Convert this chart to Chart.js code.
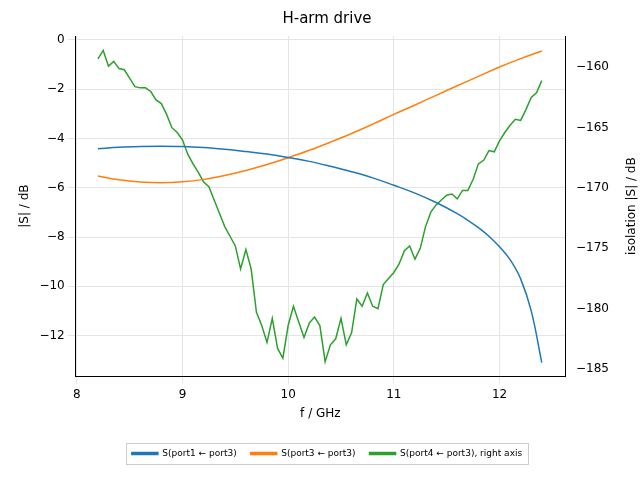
<!DOCTYPE html>
<html>
<head>
<meta charset="utf-8">
<script src="https://cdn.jsdelivr.net/npm/chart.js@4/dist/chart.umd.min.js"></script>
<style>
  body { margin: 0; background: #fff; }
  #wrap { width: 640px; height: 480px; }
</style>
</head>
<body>
<div id="wrap"><canvas id="chart"></canvas></div>
<script>
// valores
const freqBlue = [8.2, 8.4, 8.6, 8.8, 9.0, 9.2, 9.4, 9.6, 9.8, 10.0, 10.2, 10.4, 10.6, 10.8, 11.0, 11.2, 11.4, 11.6, 11.7, 11.8, 11.9, 12.0, 12.1, 12.2, 12.3, 12.4];
const s13 = [-4.42, -4.36, -4.33, -4.32, -4.33, -4.37, -4.44, -4.53, -4.63, -4.77, -4.93, -5.13, -5.35, -5.6, -5.9, -6.22, -6.6, -7.05, -7.32, -7.62, -7.97, -8.4, -8.92, -9.7, -11.0, -13.1];

const freqOrange = [8.2, 8.4, 8.6, 8.8, 9.0, 9.2, 9.4, 9.6, 9.8, 10.0, 10.2, 10.4, 10.6, 10.8, 11.0, 11.2, 11.4, 11.6, 11.8, 12.0, 12.2, 12.4];
const s33 = [-5.52, -5.68, -5.77, -5.8, -5.76, -5.66, -5.5, -5.3, -5.06, -4.78, -4.48, -4.15, -3.8, -3.42, -3.02, -2.64, -2.25, -1.86, -1.48, -1.1, -0.76, -0.45];

const freqGreen = [8.2, 8.25, 8.3, 8.35, 8.4, 8.45, 8.5, 8.55, 8.6, 8.65, 8.7, 8.75, 8.8, 8.85, 8.9, 8.95,
  9.0, 9.05, 9.1, 9.15, 9.2, 9.25, 9.3, 9.35, 9.4, 9.45, 9.5, 9.55, 9.6, 9.65, 9.7, 9.75, 9.8, 9.85, 9.9, 9.95,
  10.0, 10.05, 10.1, 10.15, 10.2, 10.25, 10.3, 10.35, 10.4, 10.45, 10.5, 10.55, 10.6, 10.65, 10.7, 10.75, 10.8, 10.85, 10.9, 10.95,
  11.0, 11.05, 11.1, 11.15, 11.2, 11.25, 11.3, 11.35, 11.4, 11.45, 11.5, 11.55, 11.6, 11.65, 11.7, 11.75, 11.8, 11.85, 11.9, 11.95,
  12.0, 12.05, 12.1, 12.15, 12.2, 12.25, 12.3, 12.35, 12.4];
const s43 = [-159.3, -158.6, -159.9, -159.5, -160.1, -160.2, -160.9, -161.6, -161.7, -161.7, -162.0, -162.7, -163.0, -163.9, -165.0, -165.4,
  -166.0, -167.2, -168.0, -168.7, -169.5, -169.9, -171.0, -172.1, -173.2, -174.0, -174.8, -176.7, -175.1, -176.7, -180.3, -181.4, -182.8, -180.8, -183.3, -184.1,
  -181.4, -179.8, -181.1, -182.4, -181.2, -180.7, -181.4, -184.4, -183.0, -182.5, -180.8, -183.0, -182.0, -179.2, -179.8, -178.7, -179.8, -180.0, -178.0, -177.5,
  -177.0, -176.3, -175.2, -174.8, -175.9, -175.0, -173.2, -172.0, -171.4, -171.0, -170.6, -170.5, -170.9, -170.2, -170.2, -169.3, -168.0, -167.7, -166.9, -167.0,
  -166.1, -165.4, -164.8, -164.3, -164.4, -163.5, -162.5, -162.1, -161.1];

const xTicks = [8, 9, 10, 11, 12];
const leftTicks = [0, -2, -4, -6, -8, -10, -12];
const rightTicks = [-160, -165, -170, -175, -180, -185];

const pts = (xs, ys) => xs.map((x, i) => ({ x: x, y: ys[i] }));

// recuadro de la leyenda + titulo del eje derecho leido de abajo hacia arriba
const extras = {
  id: 'extras',
  afterDraw(chart) {
    const ctx = chart.ctx;
    const l = chart.legend;
    ctx.save();
    if (l && l.legendHitBoxes.length) {
      const hb = l.legendHitBoxes;
      const x0 = Math.min(...hb.map(b => b.left)) - 6;
      const x1 = Math.max(...hb.map(b => b.left + b.width)) + 6;
      const y0 = hb[0].top - 6;
      const y1 = hb[0].top + hb[0].height + 6;
      ctx.strokeStyle = '#cccccc';
      ctx.lineWidth = 1;
      ctx.strokeRect(Math.round(x0) + 0.5, Math.round(y0) + 0.5, Math.round(x1 - x0), Math.round(y1 - y0));
    }
    const ax = chart.scales.y2;
    ctx.translate(ax.right - 8, (ax.top + ax.bottom) / 2);
    ctx.rotate(-Math.PI / 2);
    ctx.fillStyle = '#000';
    ctx.font = '12px "DejaVu Sans"';
    ctx.textAlign = 'center';
    ctx.textBaseline = 'middle';
    ctx.fillText('isolation |S| / dB', 0, 0);
    ctx.restore();
  }
};

new Chart(document.getElementById('chart'), {
  type: 'line',
  data: {
    datasets: [
      { label: 'S(port1 \u2190 port3)', data: pts(freqBlue, s13), borderColor: '#1f77b4', backgroundColor: '#1f77b4', yAxisID: 'y', tension: 0.4 },
      { label: 'S(port3 \u2190 port3)', data: pts(freqOrange, s33), borderColor: '#ff7f0e', backgroundColor: '#ff7f0e', yAxisID: 'y', tension: 0.4 },
      { label: 'S(port4 \u2190 port3), right axis', data: pts(freqGreen, s43), borderColor: '#2ca02c', backgroundColor: '#2ca02c', yAxisID: 'y2' }
    ]
  },
  options: {
    responsive: true,
    maintainAspectRatio: false,
    animation: false,
    elements: { point: { radius: 0 }, line: { borderWidth: 1.5 } },
    layout: { padding: { left: 14, right: 0, top: 0, bottom: 12 } },
    plugins: {
      title: { display: true, text: 'H-arm drive', color: '#000', font: { family: 'DejaVu Sans', size: 15, weight: 'normal' }, padding: { top: 10, bottom: 8 } },
      legend: {
        position: 'bottom',
        labels: { boxWidth: 26, boxHeight: 2, color: '#000', font: { family: 'DejaVu Sans', size: 9 }, padding: 14 }
      },
      tooltip: { enabled: false }
    },
    scales: {
      x: {
        type: 'linear', min: 7.99, max: 12.62,
        afterBuildTicks: ax => { ax.ticks = xTicks.map(v => ({ value: v })); },
        grid: { color: '#e5e5e5' },
        border: { color: '#000' },
        ticks: { color: '#000', font: { family: 'DejaVu Sans', size: 12 } },
        title: { display: true, text: 'f / GHz', color: '#000', font: { family: 'DejaVu Sans', size: 12 }, padding: { top: 2, bottom: 14 } }
      },
      y: {
        position: 'left', min: -13.65, max: 0.16,
        afterBuildTicks: ax => { ax.ticks = leftTicks.map(v => ({ value: v })); },
        grid: { color: '#e5e5e5' },
        border: { color: '#000' },
        ticks: { color: '#000', font: { family: 'DejaVu Sans', size: 12 }, callback: v => v === 0 ? '0' : '\u2212' + Math.abs(v) },
        title: { display: true, text: '|S| / dB', color: '#000', font: { family: 'DejaVu Sans', size: 12 } }
      },
      y2: {
        position: 'right', min: -185.6, max: -157.4,
        afterBuildTicks: ax => { ax.ticks = rightTicks.map(v => ({ value: v })); },
        grid: { display: false },
        border: { color: '#000' },
        ticks: { color: '#000', font: { family: 'DejaVu Sans', size: 12 }, callback: v => '\u2212' + Math.abs(v) },
        afterFit: ax => { ax.width += 28; }
      }
    }
  },
  plugins: [extras]
});
</script>
</body>
</html>
